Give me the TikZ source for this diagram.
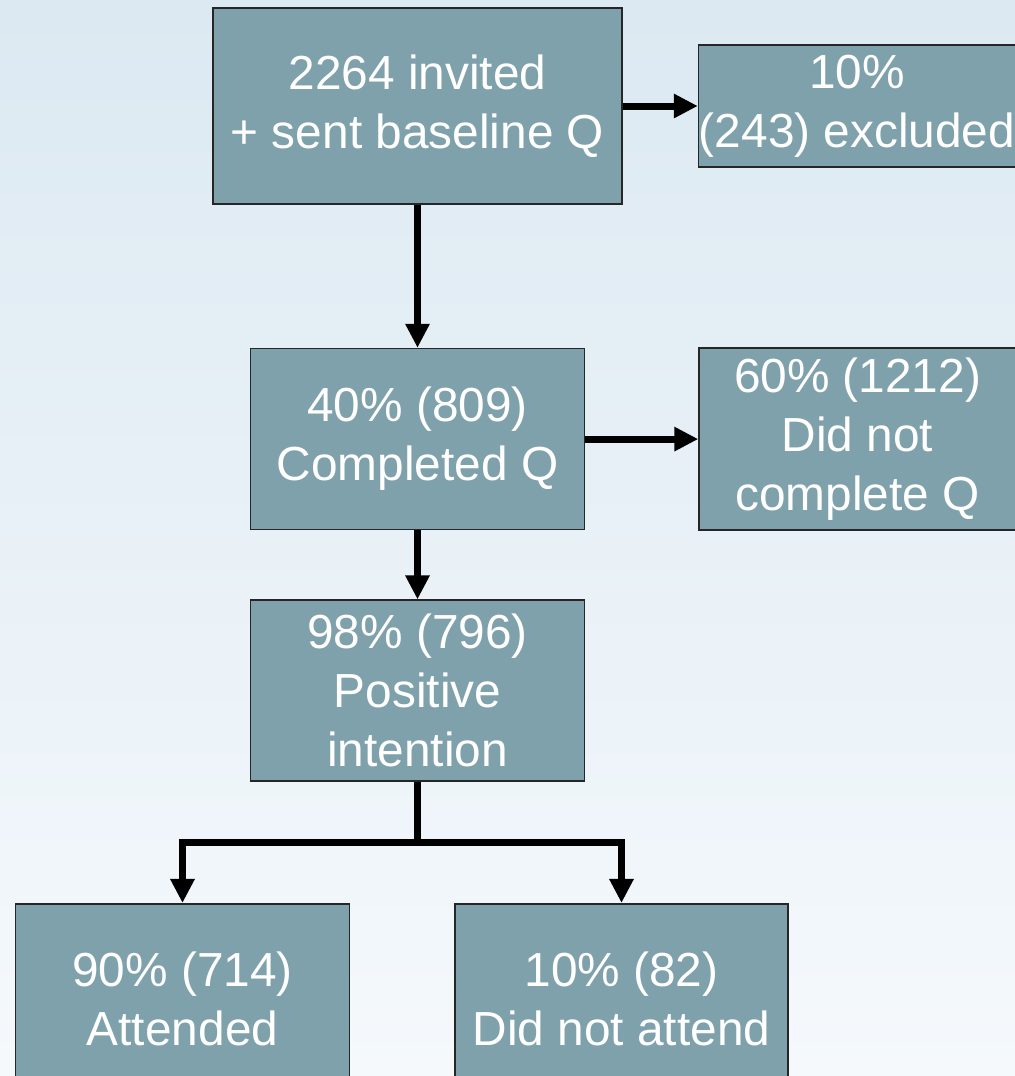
\documentclass[tikz,border=0pt]{standalone}
\usepackage{fontspec}
\setmainfont{Liberation Sans}
\usetikzlibrary{positioning,arrows.meta}
\definecolor{boite}{RGB}{127,161,171}
\definecolor{fondhaut}{RGB}{220,233,242}
\definecolor{fondbas}{RGB}{245,249,252}
\begin{document}
\begin{tikzpicture}[node distance=1cm,
    etape/.style={draw=black!85, line width=0.9pt, fill=boite, text=white, inner sep=0pt,
      align=center, font=\fontsize{27.2}{33.6}\selectfont},
    fleche/.style={line width=0.14cm, -{Triangle[length=0.48cm,width=0.46cm]}}]
              % Fond dégradé
              \shade[top color=fondhaut, bottom color=fondbas] (0,0) rectangle (20.3,-21.52);
              \useasboundingbox (0,0) rectangle (20.3,-21.52);

              % Les étapes
                \node[etape, minimum width=8.18cm, minimum height=3.92cm] at (8.35,-2.12) (inv) {2264 invited\\+ sent baseline Q};
                \node[etape, minimum width=6.34cm, minimum height=2.44cm, right=1.5cm of inv] (excl) {10\%\\(243) excluded};
                \node[etape, minimum width=6.68cm, minimum height=3.62cm, below=2.86cm of inv] (compl) {40\% (809)\\Completed Q};
                \node[etape, minimum width=6.34cm, minimum height=3.64cm, right=2.26cm of compl] (noncompl) {60\% (1212)\\Did not\\complete Q};
                \node[etape, minimum width=6.68cm, minimum height=3.62cm, below=1.38cm of compl] (pos) {98\% (796)\\Positive\\intention};
                \coordinate[below=1.22cm of pos] (emb);
                \node[etape, minimum width=6.68cm, minimum height=3.8cm, below=2.42cm of pos, xshift=-4.7cm] (att) {90\% (714)\\Attended};
                \node[etape, minimum width=6.66cm, minimum height=3.8cm, below=2.42cm of pos, xshift=4.08cm] (nonatt) {10\% (82)\\Did not attend};

              % Flèches
              \draw[fleche] (inv) -- (excl);
              \draw[fleche] (inv) -- (compl);
              \draw[fleche] (compl) -- (noncompl);
              \draw[fleche] (compl) -- (pos);
              \draw[fleche] (pos) -- (emb) -| (att);
              \draw[fleche] (pos) -- (emb) -| (nonatt);
            \end{tikzpicture}
\end{document}
